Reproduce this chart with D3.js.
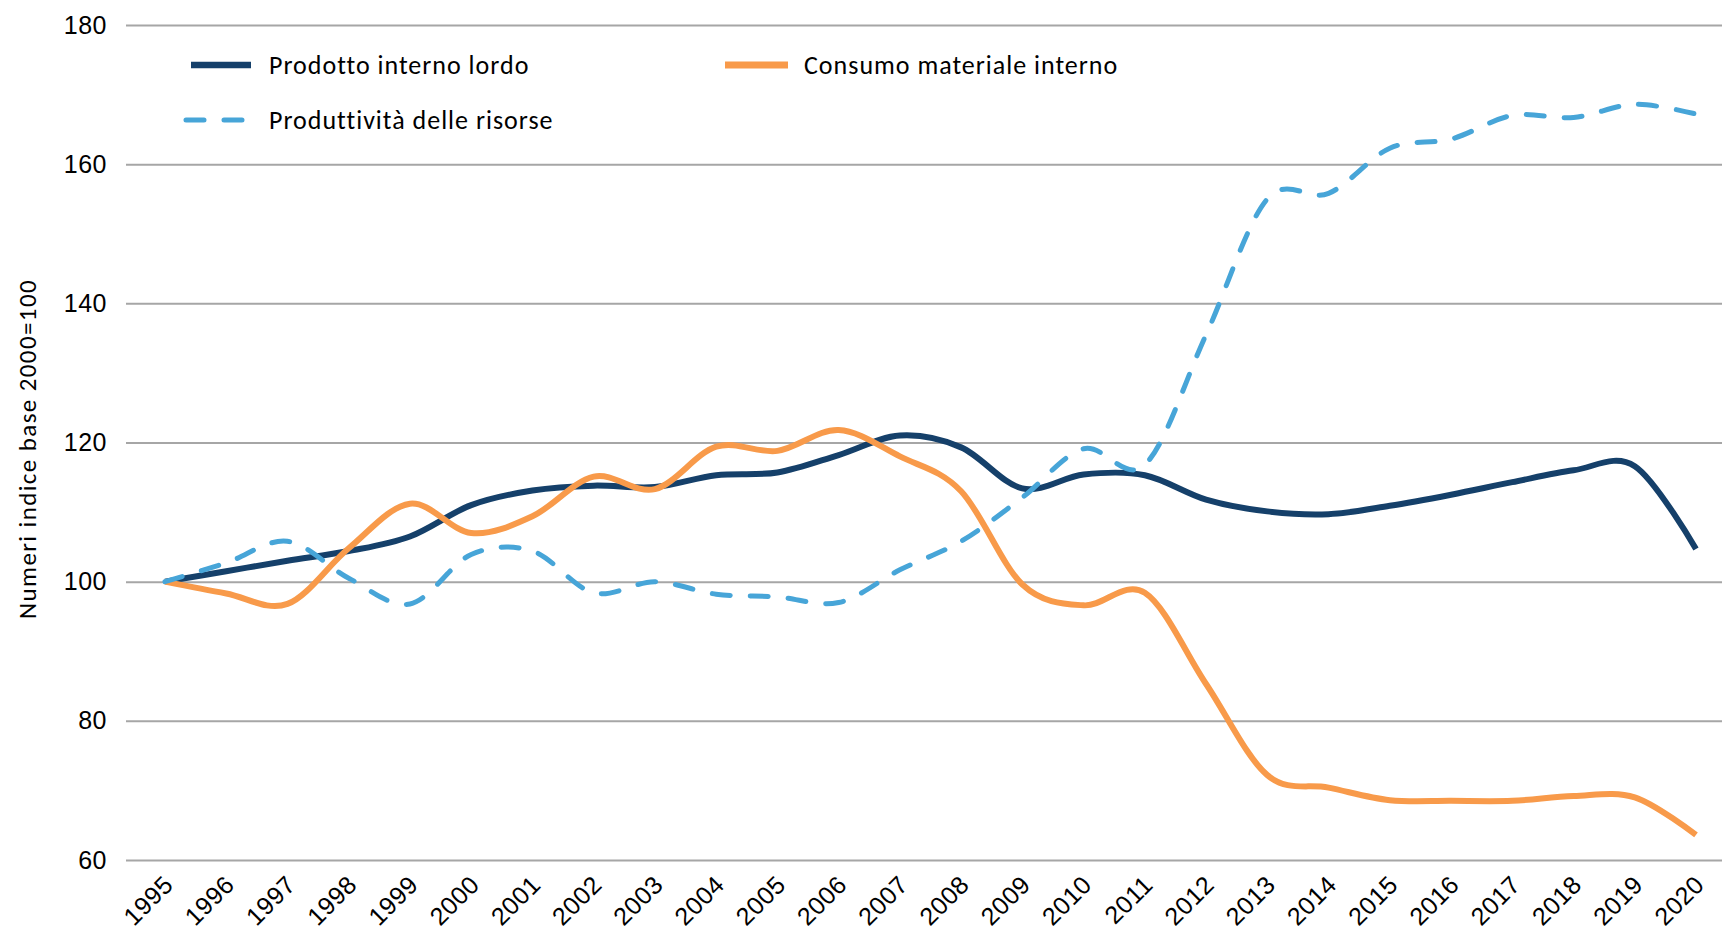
<!DOCTYPE html>
<html>
<head>
<meta charset="utf-8">
<script src="https://cdn.jsdelivr.net/npm/d3@7"></script>
<style>
  body { margin: 0; background: #fff; }
  svg { font-family: Carlito, Calibri, Lato, sans-serif; }
</style>
</head>
<body>
<div id="chart"></div>
<script>
// Index numbers, base 2000 = 100
const years = [1995, 1996, 1997, 1998, 1999, 2000, 2001, 2002, 2003, 2004, 2005, 2006, 2007,
  2008, 2009, 2010, 2011, 2012, 2013, 2014, 2015, 2016, 2017, 2018, 2019, 2020];

const pil = [100, 101.5, 103.0, 104.4, 106.5, 111.0, 113.1, 113.8, 113.6, 115.3, 115.7, 118.2, 121.0,
  119.3, 113.4, 115.4, 115.3, 111.8, 110.1, 109.7, 110.9, 112.5, 114.3, 116.0, 116.6, 104.7];

const dmc = [100, 98.3, 96.8, 104.8, 111.2, 107.0, 109.4, 115.1, 113.3, 119.4, 118.8, 121.8, 118.0,
  113.0, 99.6, 96.6, 98.4, 85.3, 72.2, 70.4, 68.6, 68.5, 68.5, 69.2, 69.0, 63.6];

const produttivita = [100, 102.7, 105.8, 100.5, 96.8, 103.9, 104.4, 98.4, 100.0, 98.2, 97.8, 97.0, 101.7,
  105.8, 112.1, 119.1, 116.8, 135.5, 155.0, 155.8, 162.3, 163.6, 167.0, 166.7, 168.6, 167.2];

const yTicks = [60, 80, 100, 120, 140, 160, 180];

const seriesNames = ['Prodotto interno lordo', 'Consumo materiale interno', 'Produttività delle risorse'];
const seriesColors = ['#15406a', '#f89a4a', '#47a5d8'];

const width = 1727;
const height = 937;

const svg = d3.select('#chart').append('svg')
  .attr('width', width)
  .attr('height', height);

const x = d3.scaleLinear().domain([1995, 2020]).range([165, 1696]);
const y = d3.scaleLinear().domain([60, 180]).range([860, 25]);

// horizontal gridlines + y labels
const gridLeft = 126;
const gridRight = 1722;
const yAxis = svg.append('g')
  .attr('transform', `translate(${gridLeft},0)`)
  .call(d3.axisLeft(y).tickValues(yTicks).tickSize(-(gridRight - gridLeft)).tickPadding(19));
yAxis.select('.domain').remove();
yAxis.selectAll('line').attr('stroke', '#a6a6a6').attr('stroke-width', 2);
yAxis.selectAll('text')
  .attr('fill', '#000')
  .style('font-size', '25px')
  .style('letter-spacing', '0.5px');

// x labels, rotated
const xAxis = svg.append('g')
  .attr('transform', 'translate(0,880)')
  .call(d3.axisBottom(x).tickValues(years).tickFormat(d3.format('d')).tickSize(0));
xAxis.select('.domain').remove();
xAxis.selectAll('text')
  .attr('fill', '#000')
  .style('font-size', '25px')
  .style('letter-spacing', '0.5px')
  .attr('text-anchor', 'end')
  .attr('y', 0)
  .attr('dy', '0.35em')
  .attr('transform', 'translate(3,0) rotate(-45)');

// y title
svg.append('text')
  .attr('transform', 'translate(36,449) rotate(-90)')
  .attr('text-anchor', 'middle')
  .attr('fill', '#000')
  .style('font-size', '25px')
  .style('letter-spacing', '1.4px')
  .text('Numeri indice base 2000=100');

// lines
const line = d3.line()
  .x((d, i) => x(years[i]))
  .y(d => y(d))
  .curve(d3.curveCatmullRom.alpha(0));

svg.append('path')
  .datum(pil)
  .attr('fill', 'none')
  .attr('stroke', seriesColors[0])
  .attr('stroke-width', 6)
  .attr('stroke-linejoin', 'round')
  .attr('d', line);

svg.append('path')
  .datum(dmc)
  .attr('fill', 'none')
  .attr('stroke', seriesColors[1])
  .attr('stroke-width', 6)
  .attr('stroke-linejoin', 'round')
  .attr('d', line);

svg.append('path')
  .datum(produttivita)
  .attr('fill', 'none')
  .attr('stroke', seriesColors[2])
  .attr('stroke-width', 5)
  .attr('stroke-linecap', 'round')
  .attr('stroke-dasharray', '18,20')
  .attr('d', line);

// legend
const legendItems = [
  { name: seriesNames[0], color: seriesColors[0], x0: 191, x1: 251, tx: 269, cy: 65, w: 6.5, dash: null },
  { name: seriesNames[1], color: seriesColors[1], x0: 725, x1: 788, tx: 804, cy: 65, w: 7, dash: null },
  { name: seriesNames[2], color: seriesColors[2], x0: 186, x1: 246, tx: 269, cy: 120, w: 5, dash: '18,20' }
];

const legend = svg.append('g').attr('class', 'legend');
legendItems.forEach(item => {
  legend.append('line')
    .attr('x1', item.x0)
    .attr('x2', item.x1)
    .attr('y1', item.cy)
    .attr('y2', item.cy)
    .attr('stroke', item.color)
    .attr('stroke-width', item.w)
    .attr('stroke-linecap', item.dash ? 'round' : 'butt')
    .attr('stroke-dasharray', item.dash);
  legend.append('text')
    .attr('x', item.tx)
    .attr('y', item.cy)
    .attr('dy', '0.35em')
    .attr('fill', '#000')
    .style('font-size', '26px')
    .style('letter-spacing', '1px')
    .text(item.name);
});
</script>
</body>
</html>
